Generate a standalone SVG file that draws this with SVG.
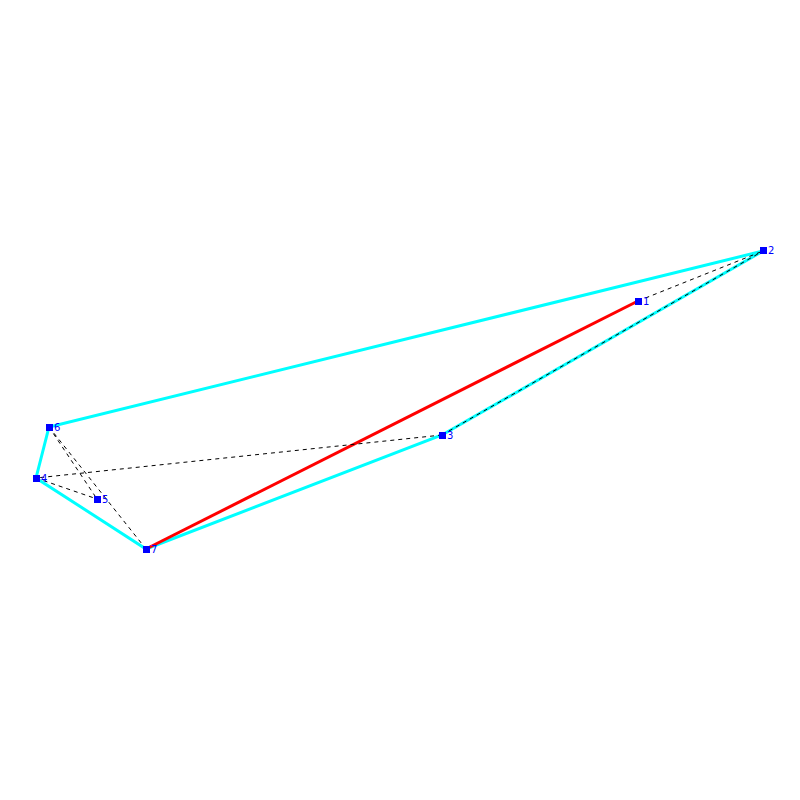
<svg xmlns="http://www.w3.org/2000/svg" width="800" height="800" viewBox="0 0 800 800">
<style>
.hull{stroke:#00ffff;stroke-width:3;fill:none}
.red{stroke:#ff0000;stroke-width:3;fill:none}
.dash{stroke:#000;stroke-width:1;stroke-dasharray:4,4;fill:none}
.pt{fill:#0000ff}
.lbl{fill:#0000ff;font-family:"DejaVu Sans",sans-serif;font-size:10px}
</style>
<rect width="800" height="800" fill="#fff"/>
<g id="connectors">
<polygon class="hull" points="763,251 49,427 36,478 146,549 442,435"/>
<line class="red" x1="146" y1="549" x2="638" y2="301"/>
<line class="dash" x1="638" y1="301" x2="763" y2="251"/>
<line class="dash" x1="442" y1="435" x2="763" y2="251"/>
<line class="dash" x1="442" y1="435" x2="36" y2="478"/>
<line class="dash" x1="36" y1="478" x2="97" y2="499"/>
<line class="dash" x1="49" y1="427" x2="97" y2="499"/>
<line class="dash" x1="49" y1="427" x2="146" y2="549"/>
</g>
<g id="n1"><rect class="pt" x="635" y="298" width="7" height="7"/><text class="lbl" x="643" y="305">1</text></g>
<g id="n2"><rect class="pt" x="760" y="247" width="7" height="7"/><text class="lbl" x="768" y="254">2</text></g>
<g id="n3"><rect class="pt" x="439" y="432" width="7" height="7"/><text class="lbl" x="447" y="439">3</text></g>
<g id="n4"><rect class="pt" x="33" y="475" width="7" height="7"/><text class="lbl" x="41" y="482">4</text></g>
<g id="n5"><rect class="pt" x="94" y="496" width="7" height="7"/><text class="lbl" x="102" y="503">5</text></g>
<g id="n6"><rect class="pt" x="46" y="424" width="7" height="7"/><text class="lbl" x="54" y="431">6</text></g>
<g id="n7"><rect class="pt" x="143" y="546" width="7" height="7"/><text class="lbl" x="151" y="553">7</text></g>
</svg>
